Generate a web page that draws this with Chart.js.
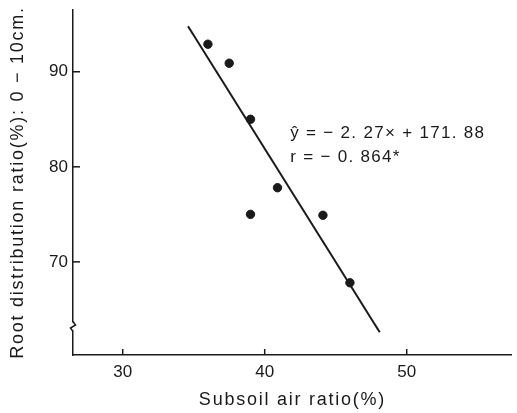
<!DOCTYPE html>
<html><head><meta charset="utf-8">
<script src="https://cdn.jsdelivr.net/npm/chart.js@4/dist/chart.umd.min.js"></script>
<style>html,body{margin:0;padding:0;background:#fff;overflow:hidden}#wrap{width:517px;height:413px;position:relative}</style>
</head><body><div id="wrap"><canvas id="c"></canvas></div>
<script>
// Data
const airRatio  = [36.0, 37.5, 39.0, 40.9, 39.0, 44.1, 46.0];   // Subsoil air ratio (%)
const rootRatio = [92.9, 90.9, 85.0, 77.8, 75.0, 74.9, 67.8];   // Root distribution ratio (%) 0-10 cm
const fitX = [34.6, 48.1];                                      // regression line ends (x)
const fitY = [94.8, 62.6];                                      // regression line ends (y)
const xTicks = [30, 40, 50];
const yTicks = [70, 80, 90];
const xRange = [26.5, 57.4];
const yRange = [60.2, 96.5];
const yBreak = 63.2;
const eqLines = ['ŷ = − 2. 27× + 171. 88', 'r = − 0. 864*'];
const eqPos = [41.8, 83.0];

const FONT = '"Liberation Sans", Arial, Helvetica, sans-serif';
const INK = '#1a1a1a';

function spaceTitle(scale, spacing){
  if (scale._spaced) return;
  const orig = scale.drawTitle.bind(scale);
  scale.drawTitle = function(){
    const ctx = this.ctx; ctx.save(); ctx.letterSpacing = spacing; orig(); ctx.restore();
  };
  scale._spaced = true;
}
function noPad(s){ s.paddingLeft = 0; s.paddingRight = 0; s.paddingTop = 0; s.paddingBottom = 0; }

const decor = {
  id: 'decor',
  beforeDraw(chart){
    spaceTitle(chart.scales.x, '1.75px');
    spaceTitle(chart.scales.y, '1.75px');
  },
  afterDraw(chart){
    const {ctx, chartArea: a, scales: {x, y}} = chart;
    ctx.save();
    ctx.strokeStyle = INK; ctx.lineWidth = 1.5;
    yTicks.forEach(v => { const py = y.getPixelForValue(v); ctx.beginPath(); ctx.moveTo(a.left, py); ctx.lineTo(a.left + 7, py); ctx.stroke(); });
    xTicks.forEach(v => { const px = x.getPixelForValue(v); ctx.beginPath(); ctx.moveTo(px, a.bottom); ctx.lineTo(px, a.bottom - 6); ctx.stroke(); });
    // axis break mark
    const by = y.getPixelForValue(yBreak);
    ctx.fillStyle = '#fff'; ctx.fillRect(a.left - 3, by - 4, 6, 8);
    ctx.beginPath(); ctx.moveTo(a.left, by - 5); ctx.lineTo(a.left + 2.5, by - 1.5); ctx.lineTo(a.left - 2.5, by + 1.5); ctx.lineTo(a.left, by + 5); ctx.stroke();
    // equation
    ctx.fillStyle = INK; ctx.font = '17px ' + FONT; ctx.letterSpacing = '1.3px';
    ctx.textAlign = 'left'; ctx.textBaseline = 'alphabetic';
    const ex = x.getPixelForValue(eqPos[0]), ey = y.getPixelForValue(eqPos[1]);
    eqLines.forEach((t, i) => ctx.fillText(t, ex, ey + i * 24));
    ctx.restore();
  }
};

new Chart(document.getElementById('c'), {
  data: {
    datasets: [
      { type: 'scatter', data: airRatio.map((v, i) => ({x: v, y: rootRatio[i]})),
        backgroundColor: INK, borderColor: INK, pointRadius: 4.2, pointHoverRadius: 4.2 },
      { type: 'line', data: fitX.map((v, i) => ({x: v, y: fitY[i]})),
        borderColor: INK, borderWidth: 2, pointRadius: 0, fill: false, tension: 0 }
    ]
  },
  options: {
    responsive: true, maintainAspectRatio: false, animation: false,
    layout: { padding: { top: 10, right: 0, left: 0, bottom: 0 } },
    plugins: { legend: { display: false }, tooltip: { enabled: false } },
    scales: {
      x: {
        type: 'linear', min: xRange[0], max: xRange[1],
        afterBuildTicks: s => { s.ticks = xTicks.map(v => ({value: v})); },
        afterFit: s => { s.height = 58; noPad(s); },
        grid: { display: false, drawTicks: false },
        border: { display: true, color: INK, width: 1.5 },
        ticks: { font: { size: 17, family: FONT }, color: INK, padding: 7 },
        title: { display: true, text: 'Subsoil air ratio(%)', font: { size: 18, family: FONT }, color: INK, padding: { top: 0, bottom: 2 } }
      },
      y: {
        type: 'linear', min: yRange[0], max: yRange[1],
        afterBuildTicks: s => { s.ticks = yTicks.map(v => ({value: v})); },
        afterFit: s => { s.width = 73; noPad(s); },
        grid: { display: false, drawTicks: false },
        border: { display: true, color: INK, width: 1.5 },
        ticks: { font: { size: 17, family: FONT }, color: INK, padding: 5 },
        title: { display: true, text: 'Root distribution ratio(%): 0 − 10cm.', font: { size: 18, family: FONT }, color: INK, padding: { top: 7, bottom: 0 } }
      }
    }
  },
  plugins: [decor]
});
</script>
</body></html>
